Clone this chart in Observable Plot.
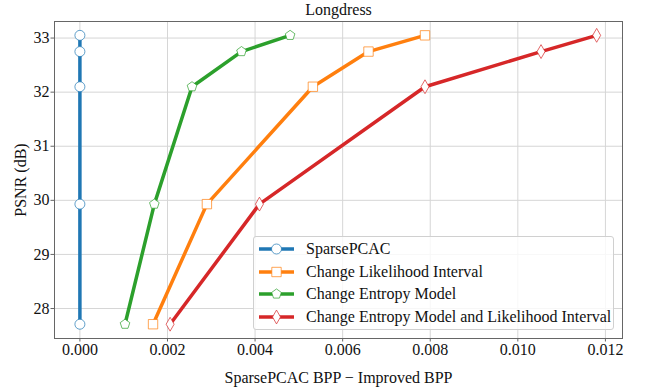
<!DOCTYPE html>
<html><head><meta charset="utf-8">
<script src="https://cdn.jsdelivr.net/npm/d3@7"></script>
<script src="https://cdn.jsdelivr.net/npm/@observablehq/plot@0.6"></script>
<style>
body{margin:0;background:#fff;}
#wrap{position:relative;width:647px;height:391px;font-family:"Liberation Serif","DejaVu Serif",serif;}
#wrap svg text{font-family:"Liberation Serif","DejaVu Serif",serif;}
#legend{position:absolute;left:253px;top:236px;width:359px;height:92px;border:1px solid #d0d0d0;border-radius:3px;background:rgba(255,255,255,0.8);}
.row{position:absolute;left:0;height:22px;display:flex;align-items:center;font-size:16px;color:#111;white-space:nowrap;}
.row svg{display:block;}
</style></head><body><div id="wrap"></div>
<script>
const title = "Longdress";
const xLabel = "SparsePCAC BPP − Improved BPP";
const yLabel = "PSNR (dB)";
const seriesNames = ["SparsePCAC", "Change Likelihood Interval", "Change Entropy Model", "Change Entropy Model and Likelihood Interval"];
const psnr = [27.71, 29.93, 32.10, 32.75, 33.05];
const bppSparsePCAC = [0, 0, 0, 0, 0];
const bppLikelihood = [0.00167, 0.00290, 0.00532, 0.00659, 0.00788];
const bppEntropy = [0.00103, 0.00170, 0.00256, 0.00369, 0.00480];
const bppBoth = [0.00206, 0.00410, 0.00788, 0.01053, 0.01180];
const xTicks = [0, 0.002, 0.004, 0.006, 0.008, 0.010, 0.012];
const yTicks = [28, 29, 30, 31, 32, 33];

const serif = "Liberation Serif, DejaVu Serif, serif";
const colors = ["#1f77b4", "#ff7f0e", "#2ca02c", "#d62728"];
const pentagon = {draw(ctx, size) {
  const R = Math.sqrt(size / 2.3776);
  for (let i = 0; i < 5; i++) {
    const a = -Math.PI / 2 + i * 2 * Math.PI / 5;
    const x = R * Math.cos(a), y = R * Math.sin(a);
    if (i) ctx.lineTo(x, y); else ctx.moveTo(x, y);
  }
  ctx.closePath();
}};
const symbols = [d3.symbolCircle, d3.symbolSquare, pentagon, d3.symbolDiamond];
const radii = [5, 5.3, 4.4, 4.2];

const bppSeries = [bppSparsePCAC, bppLikelihood, bppEntropy, bppBoth];
const tables = bppSeries.map((b, i) => b.map((v, j) => ({series: seriesNames[i], bpp: v, psnr: psnr[j]})));

const seriesMarks = tables.flatMap((t, i) => [
  Plot.line(t, {x: "bpp", y: "psnr", stroke: colors[i], strokeWidth: 3.5}),
  Plot.dot(t, {x: "bpp", y: "psnr", symbol: symbols[i], r: radii[i], fill: "white", stroke: colors[i], strokeOpacity: 0.7, strokeWidth: 1})
]);

const chart = Plot.plot({
  width: 647, height: 391,
  marginLeft: 54, marginRight: 25, marginTop: 21, marginBottom: 53,
  style: {fontFamily: serif, fontSize: "16px", color: "#111", background: "white"},
  x: {domain: [-0.00058, 0.01239]},
  y: {domain: [27.446, 33.306]},
  marks: [
    Plot.gridX(xTicks, {stroke: "#d6d6d6", strokeOpacity: 1, strokeWidth: 1}),
    Plot.gridY(yTicks, {stroke: "#d6d6d6", strokeOpacity: 1, strokeWidth: 1}),
    ...seriesMarks,
    Plot.frame({stroke: "#666", strokeWidth: 1}),
    Plot.axisX(xTicks, {tickFormat: d3.format(".3f"), tickSize: 3.5, tickPadding: 1.5, fontSize: 16, fontFamily: serif, label: null, stroke: "#666", fill: "#111"}),
    Plot.axisY(yTicks, {tickFormat: d3.format("d"), tickSize: 3.5, tickPadding: 1.5, fontSize: 16, fontFamily: serif, label: null, stroke: "#666", fill: "#111"}),
    Plot.text([title], {frameAnchor: "top", lineAnchor: "middle", dy: -12, fontSize: 16, fontFamily: serif, fill: "#111"}),
    Plot.text([xLabel], {frameAnchor: "bottom", lineAnchor: "middle", dy: 39, fontSize: 16, fontFamily: serif, fill: "#111"}),
    Plot.text([yLabel], {frameAnchor: "left", textAnchor: "middle", lineAnchor: "middle", dx: -34, rotate: -90, fontSize: 16, fontFamily: serif, fill: "#111"})
  ]
});
const wrap = document.getElementById("wrap");
wrap.appendChild(chart);

const legend = document.createElement("div");
legend.id = "legend";
seriesNames.forEach((name, i) => {
  const row = document.createElement("div");
  row.className = "row";
  row.style.top = (1 + i * 22.6) + "px";
  const ns = "http://www.w3.org/2000/svg";
  const svg = document.createElementNS(ns, "svg");
  svg.setAttribute("width", 52); svg.setAttribute("height", 22);
  const line = document.createElementNS(ns, "line");
  line.setAttribute("x1", 5); line.setAttribute("x2", 40);
  line.setAttribute("y1", 11); line.setAttribute("y2", 11);
  line.setAttribute("stroke", colors[i]); line.setAttribute("stroke-width", 3.5);
  svg.appendChild(line);
  const p = document.createElementNS(ns, "path");
  p.setAttribute("d", d3.symbol(symbols[i], radii[i] * radii[i] * Math.PI)());
  p.setAttribute("transform", "translate(22.5,11)");
  p.setAttribute("fill", "white"); p.setAttribute("stroke", colors[i]);
  p.setAttribute("stroke-opacity", 0.7); p.setAttribute("stroke-width", 1);
  svg.appendChild(p);
  row.appendChild(svg);
  const span = document.createElement("span");
  span.textContent = name;
  row.appendChild(span);
  legend.appendChild(row);
});
wrap.appendChild(legend);
</script></body></html>
